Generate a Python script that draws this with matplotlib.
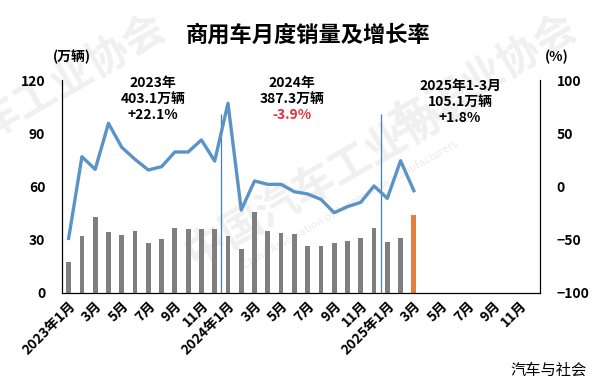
import numpy as np
import matplotlib
matplotlib.use("Agg")
import matplotlib.pyplot as plt

plt.rcParams["font.family"] = ["Noto Sans CJK SC", "DejaVu Sans"]

# monthly sales (10k vehicles), 2023-01 .. 2025-03
sales = [17.6, 32.3, 43.0, 34.5, 32.8, 35.1, 28.3, 30.6, 36.6, 36.0, 36.0, 36.0,
         32.3, 24.8, 45.5, 34.9, 33.8, 33.4, 26.6, 26.6, 28.3, 29.3, 31.0, 36.6,
         28.9, 31.0, 43.9]
# year-on-year growth (%)
growth = [-48.7, 28.0, 16.1, 59.3, 36.8, 25.5, 15.5, 18.6, 32.4, 32.4, 43.7, 23.9,
          78.1, -22.1, 5.2, 2.0, 2.0, -4.9, -7.0, -12.1, -24.6, -18.9, -14.9, 0.5,
          -11.1, 24.2, -3.9]
n_slots = 36
tick_labels = ["2023年1月", "3月", "5月", "7月", "9月", "11月",
               "2024年1月", "3月", "5月", "7月", "9月", "11月",
               "2025年1月", "3月", "5月", "7月", "9月", "11月"]
left_ticks = [0, 30, 60, 90, 120]
right_ticks = [-100, -50, 0, 50, 100]
note_period = ["2023年", "2024年", "2025年1-3月"]
note_volume = ["403.1万辆", "387.3万辆", "105.1万辆"]
note_rate = ["+22.1%", "-3.9%", "+1.8%"]
note_rate_color = ["black", "#e0303a", "black"]

BAR_GREY = "#7f7f7f"
BAR_ORANGE = "#e2813f"
LINE_BLUE = "#5b93c7"

fig = plt.figure(figsize=(6.04, 3.87), dpi=100)
ax = fig.add_axes([62 / 604, 1 - 293 / 387, 478 / 604, 213 / 387])
ax2 = ax.twinx()

# faint watermark, behind the axes
wm = dict(color="#f0f0f0", weight="bold", ha="center", va="center", zorder=-1)
fig.text(0.12, 0.80, "车工业协会", fontsize=30, rotation=30, **wm)
fig.text(0.55, 0.55, "中国汽车工业协会", fontsize=30, rotation=30, **wm)
fig.text(0.80, 0.80, "车工业协会", fontsize=30, rotation=30, **wm)
fig.text(0.58, 0.47, "China Association of Automobile Manufacturers",
         fontsize=8, rotation=30, color="#ebebeb", ha="center", va="center",
         zorder=-1)

x = np.arange(len(sales))
colors = [BAR_GREY] * (len(sales) - 1) + [BAR_ORANGE]
ax.bar(x, sales, width=0.36, color=colors, zorder=2)
ax.vlines([11.5, 23.5], 0, 101, color="#4a7fb5", lw=0.9, zorder=1)
ax.set_xlim(-0.5, n_slots - 0.5)
ax.set_ylim(0, 120)
ax.set_yticks(left_ticks)
ax.set_xticks(np.arange(0, n_slots, 2))
ax.set_xticklabels(tick_labels, rotation=45, ha="right",
                   rotation_mode="anchor", fontsize=10, weight="bold")
ax.tick_params(axis="both", length=0)
ax.tick_params(axis="y", pad=12)
ax.tick_params(axis="x", pad=4)
for lab in ax.get_yticklabels():
    lab.set_fontweight("bold")
    lab.set_fontsize(10)

ax2.plot(x, growth, color=LINE_BLUE, lw=2.4, zorder=3)
ax2.set_ylim(-100, 100)
ax2.set_yticks(right_ticks)
ax2.tick_params(axis="y", length=0, pad=12)
for lab in ax2.get_yticklabels():
    lab.set_fontweight("bold")
    lab.set_fontsize(10)

for a in (ax, ax2):
    a.spines["top"].set_visible(False)
    for s in ("left", "right", "bottom"):
        a.spines[s].set_color("black")
    a.patch.set_alpha(0)

fig.text(308 / 604, 1 - 35 / 387, "商用车月度销量及增长率", fontsize=16,
         weight="bold", ha="center", va="center")
fig.text(72 / 604, 1 - 57 / 387, "(万辆)", fontsize=10, weight="bold",
         ha="center", va="center")
fig.text(557 / 604, 1 - 57 / 387, "(%)", fontsize=10, weight="bold",
         ha="center", va="center")

note_x = [153, 292, 460]
note_top = [83, 83, 86]
for i in range(3):
    y0 = note_top[i]
    kw = dict(fontsize=10, weight="bold", ha="center", va="center")
    fig.text(note_x[i] / 604, 1 - y0 / 387, note_period[i], **kw)
    fig.text(note_x[i] / 604, 1 - (y0 + 16) / 387, note_volume[i], **kw)
    fig.text(note_x[i] / 604, 1 - (y0 + 32) / 387, note_rate[i],
             color=note_rate_color[i], **kw)

fig.text(549 / 604, 1 - 370 / 387, "汽车与社会", fontsize=11,
         ha="center", va="center")

fig.savefig("out.png", dpi=100)
